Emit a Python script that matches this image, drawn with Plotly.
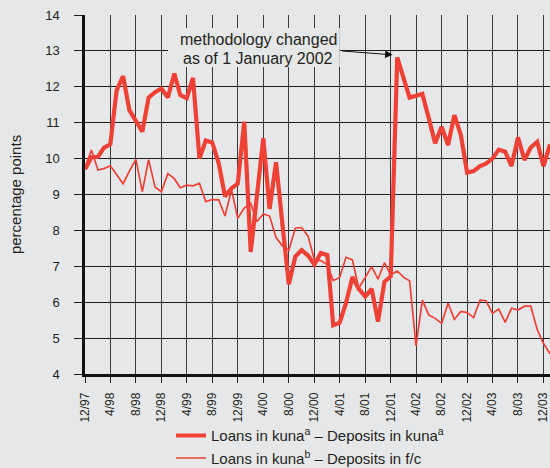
import pandas as pd
import plotly.graph_objects as go

# monthly observations, 12/1997 .. 1/2004
months = pd.date_range("1997-12-01", "2004-01-01", freq="MS")

kuna_kuna = [
    9.7, 10.04, 10.05, 10.3, 10.4, 11.9, 12.3, 11.35, 11.05, 10.75, 11.7, 11.85,
    11.95, 11.7, 12.37, 11.77, 11.68, 12.25, 10.0, 10.5, 10.45, 9.87, 8.95, 9.17,
    9.3, 11.03, 7.4, 9.0, 10.57, 8.6, 9.9, 8.2, 6.5, 7.27, 7.45, 7.3,
    7.05, 7.37, 7.31, 5.36, 5.43, 5.97, 6.7, 6.37, 6.16, 6.37, 5.46, 6.57,
    6.72, 12.82, 12.25, 11.7, 11.75, 11.8, 11.12, 10.43, 10.89, 10.38, 11.21, 10.66,
    9.61, 9.65, 9.79, 9.86, 10.0, 10.25, 10.19, 9.79, 10.59, 9.96, 10.31, 10.47,
    9.79, 10.4,
]

kuna_fc = [
    9.75, 10.24, 9.68, 9.72, 9.8, 9.55, 9.3, 9.65, 9.98, 9.08, 9.97, 9.2,
    9.08, 9.58, 9.44, 9.19, 9.26, 9.24, 9.31, 8.8, 8.86, 8.85, 8.4, 9.13,
    8.34, 8.62, 8.75, 8.24, 8.46, 8.4, 7.8, 7.57, 7.45, 8.06, 8.08, 7.84,
    7.18, 7.16, 7.04, 6.6, 6.69, 7.25, 7.18, 6.39, 6.69, 6.99, 6.64, 7.1,
    6.76, 6.87, 6.69, 6.6, 4.78, 6.06, 5.64, 5.55, 5.41, 5.97, 5.52, 5.74,
    5.71, 5.57, 6.06, 6.04, 5.69, 5.81, 5.44, 5.83, 5.78, 5.89, 5.89, 5.24,
    4.85, 4.56,
]

tick_labels = ["12/97", "4/98", "8/98", "12/98", "4/99", "8/99", "12/99", "4/00",
               "8/00", "12/00", "4/01", "8/01", "12/01", "4/02", "8/02", "12/02",
               "4/03", "8/03", "12/03"]
tick_dates = pd.to_datetime(tick_labels, format="%m/%y")

RED = "#ef4136"
BG = "#e6e7e9"
INK = "#231f20"
FONT = "Liberation Sans, Arial, sans-serif"

fig = go.Figure()
fig.add_trace(go.Scatter(x=months, y=kuna_kuna, mode="lines",
                         line=dict(color=RED, width=4.2),
                         name="Loans in kuna<sup>a</sup> – Deposits in kuna<sup>a</sup>"))
fig.add_trace(go.Scatter(x=months, y=kuna_fc, mode="lines",
                         line=dict(color=RED, width=1.7),
                         name="Loans in kuna<sup>b</sup> – Deposits in f/c"))

# box behind the note, hides the grid
fig.add_shape(type="rect", xref="paper", yref="y", x0=0.1785, x1=0.548, y0=12.55, y1=13.64,
              fillcolor=BG, line=dict(width=0), layer="above")
fig.add_annotation(text="methodology changed", xref="paper", yref="y", x=0.373, y=13.32,
                   showarrow=False, font=dict(size=16, color=INK))
fig.add_annotation(text="as of 1 January 2002", xref="paper", yref="y", x=0.373, y=12.80,
                   showarrow=False, font=dict(size=16, color=INK))
fig.add_annotation(text="", x="2001-12-10", y=12.89, ax=-52, ay=-4,
                   showarrow=True, arrowhead=2, arrowsize=1.5, arrowwidth=1, arrowcolor="#111")

fig.update_layout(
    width=550, height=468,
    margin=dict(l=85, r=0, t=15, b=94, autoexpand=False),
    paper_bgcolor=BG, plot_bgcolor=BG,
    font=dict(family=FONT, color=INK),
    showlegend=True,
    legend=dict(x=0.185, y=-0.126, xanchor="left", yanchor="top",
                bgcolor="rgba(0,0,0,0)", font=dict(size=15), tracegroupgap=0),
)
fig.update_xaxes(
    type="date", range=["1997-12-01", "2004-01-01"], automargin=False,
    tickvals=tick_dates, ticktext=tick_labels, tickangle=-90,
    tickfont=dict(size=12), ticks="outside", ticklen=6, tickcolor=INK,
    ticklabelstandoff=5, ticklabeloverflow="allow",
    showgrid=True, gridcolor="#3a3a3a", gridwidth=1,
    showline=True, linecolor="#111", linewidth=2.5, zeroline=False,
)
fig.update_yaxes(
    range=[4, 14], dtick=1, automargin=False,
    tickfont=dict(size=13), ticks="outside", ticklen=8,
    tickcolor=INK, ticklabelstandoff=12,
    showgrid=True, gridcolor="#1e1e1e", gridwidth=1,
    showline=True, linecolor="#111", linewidth=2.5, zeroline=False,
    title=dict(text="percentage points", font=dict(size=15), standoff=20),
)

# drop the page's default body margin so the figure sits at the window corner
fig.write_html("out.html", config={"displayModeBar": False},
               post_script="document.body.style.margin='0';"
                           "document.body.style.background='%s';" % BG)
